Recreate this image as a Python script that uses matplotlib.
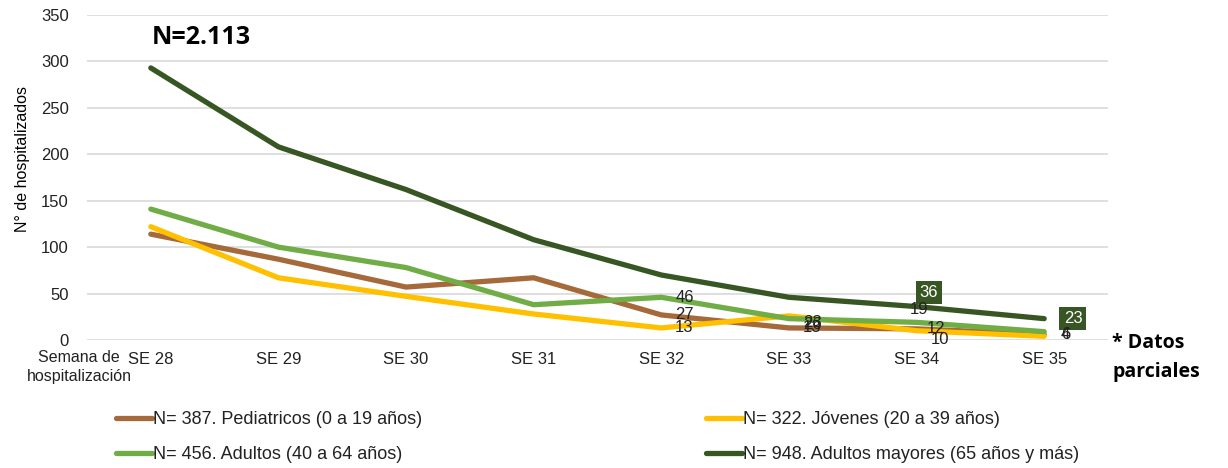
import matplotlib
matplotlib.use("Agg")
import matplotlib.pyplot as plt
from matplotlib import font_manager as fm

weeks = ["SE 28", "SE 29", "SE 30", "SE 31", "SE 32", "SE 33", "SE 34", "SE 35"]
pediatricos = [114, 87, 57, 67, 27, 13, 12, 6]
jovenes = [122, 67, 47, 28, 13, 26, 10, 4]
adultos = [141, 100, 78, 38, 46, 23, 19, 9]
mayores = [293, 208, 162, 108, 70, 46, 36, 23]

names = ["N= 387. Pediatricos (0 a 19 años)", "N= 322. Jóvenes (20 a 39 años)",
         "N= 456. Adultos (40 a 64 años)", "N= 948. Adultos mayores (65 años y más)"]
colors = ["#A5693A", "#FFC000", "#70AD47", "#375623"]
yticks = [0, 50, 100, 150, 200, 250, 300, 350]

avail = {f.name for f in fm.fontManager.ttflist}
base = "Liberation Sans" if "Liberation Sans" in avail else "DejaVu Sans"
plt.rcParams['font.family'] = [base, 'DejaVu Sans']

W, H = 1228, 468
fig = plt.figure(figsize=(W/100, H/100), dpi=100)
ax = fig.add_axes([87/W, 1-340/H, (1108-87)/W, (340-15)/H])

x = list(range(len(weeks)))
series = [pediatricos, jovenes, adultos, mayores]
lines = []
for s, c, n in zip(series, colors, names):
    l, = ax.plot(x, s, color=c, lw=3.8, solid_joinstyle='round', solid_capstyle='round', label=n)
    lines.append(l)

ax.set_xlim(-0.5, len(weeks)-0.5)
ax.set_ylim(0, 350)
ax.set_yticks(yticks)
ax.set_xticks(x)
ax.set_xticklabels(weeks)
ax.tick_params(axis='both', length=0, labelsize=12, colors='#222222')
ax.tick_params(axis='x', pad=9)
ax.tick_params(axis='y', pad=13)
ax.grid(axis='y', color='#D9D9D9', lw=1.2)
ax.set_axisbelow(True)
for sp in ax.spines.values():
    sp.set_visible(False)
ax.set_ylabel("N° de hospitalizados", fontsize=11.5)
ax.yaxis.set_label_coords((30-87)/1021, (340-159)/325)

fig.text(79/W, 1-367/H, "Semana de\nhospitalización", ha='center', va='center',
         fontsize=11.5, linespacing=1.25, color='#222222')

# data labels
lab_kw = dict(fontsize=12, color='#222222')
def lab(i, v, dx, dy, ha='left', va='center', box=False):
    if box:
        ax.annotate(str(v), (i, v), xytext=(dx, dy), textcoords='offset points',
                    ha=ha, va=va, fontsize=12, color='white',
                    bbox=dict(boxstyle='square,pad=0.25', fc='#375623', ec='none'))
    else:
        ax.annotate(str(v), (i, v), xytext=(dx, dy), textcoords='offset points',
                    ha=ha, va=va, **lab_kw)

lab(4, adultos[4], 10, 0)
lab(4, pediatricos[4], 10, 0)
lab(4, jovenes[4], 10, 0)
lab(5, jovenes[5], 10, -6)
lab(5, adultos[5], 10, -3)
lab(5, pediatricos[5], 10, 0)
lab(6, mayores[6], 9, 10, ha='center', box=True)
lab(6, adultos[6], 2, 9, ha='center')
lab(6, pediatricos[6], 7, 0)
lab(6, jovenes[6], 10, -6)
lab(7, mayores[7], 14, 0, box=True)
lab(7, pediatricos[7], 12, 0)
lab(7, jovenes[7], 12, 1)

bold_fam = ['Open Sans', 'DejaVu Sans']
fig.text(152/W, 1-38/H, "N=2.113", fontsize=18, fontweight='bold',
         family=bold_fam, ha='left', va='center', color='black')
fig.text(1112/W, 1-343/H, "* Datos", fontsize=14, fontweight='bold',
         family=bold_fam, ha='left', va='center', color='black')
fig.text(1112/W, 1-372/H, "parciales", fontsize=14, fontweight='bold',
         family=bold_fam, ha='left', va='center', color='black')

leg_kw = dict(frameon=False, handlelength=2.0, handletextpad=0.05, labelspacing=1.0,
              prop={'size': 13}, borderaxespad=0, borderpad=0)
l1 = fig.legend([lines[0], lines[2]], [names[0], names[2]], loc='upper left',
                bbox_to_anchor=(116/W, 1-411/H), **leg_kw)
l2 = fig.legend([lines[1], lines[3]], [names[1], names[3]], loc='upper left',
                bbox_to_anchor=(706/W, 1-411/H), **leg_kw)
for lg in (l1, l2):
    for t in lg.get_texts():
        t.set_color('#222222')

fig.savefig("out.png", dpi=100, facecolor='white')
